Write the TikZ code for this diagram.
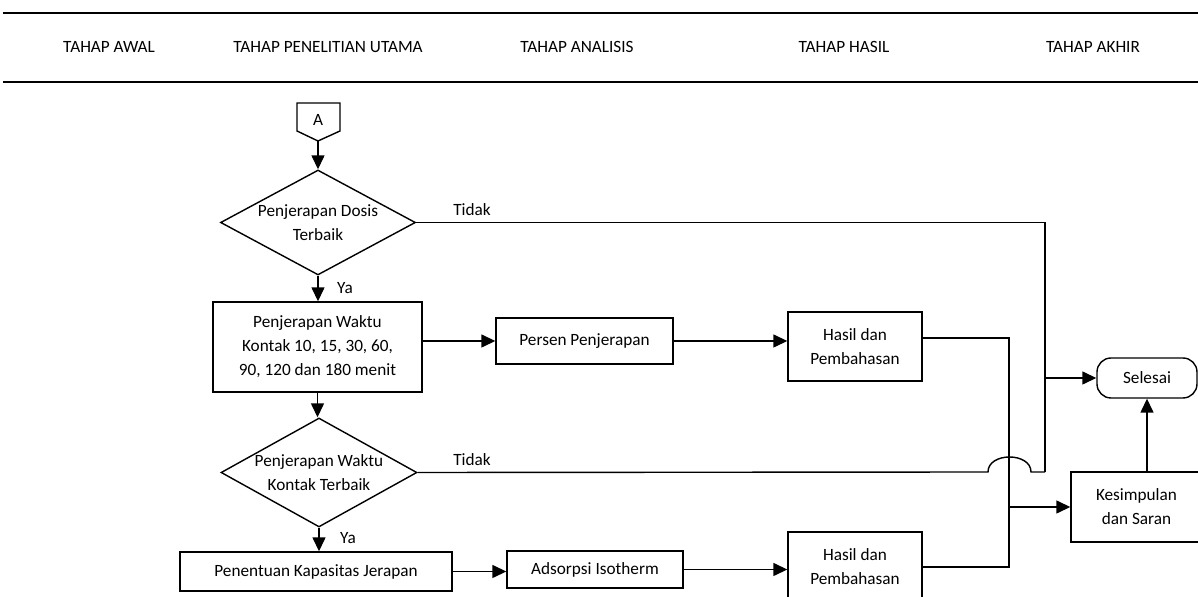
\documentclass[tikz,border=0pt]{standalone}
\usepackage{fontspec}
\setmainfont{Carlito}
\usetikzlibrary{arrows.meta, calc, positioning, shapes.geometric}

\begin{document}
\begin{tikzpicture}[x=0.02cm, y=-0.02cm, % one unit = one pixel, y pointing down
          > = {Triangle[length=2.8mm, width=2.6mm]}, % defined in "arrows.meta"
 line/.style = {line width=0.8pt},
  hdr/.style = {font=\fontsize{9.8}{12}\selectfont, inner sep=0pt},
  lbl/.style = {font=\fontsize{9.8}{12}\selectfont, inner sep=1pt},
 proc/.style = {draw, line width=0.8pt, align=center, inner sep=0pt,
                font=\fontsize{9.8}{13.6}\selectfont},
decide/.style = {diamond, draw, line width=0.8pt, align=center, aspect=1.85,
                inner sep=-4pt, font=\fontsize{9.8}{13.6}\selectfont},
 term/.style = {proc, rounded corners=2.8mm}
                    ]
\useasboundingbox (0,0) rectangle (1198,597);

	% header band
	\draw[line width=1.5pt] (3,13) -- (1198,13) (3,82) -- (1198,82);
	\foreach \x/\t [count=\i] in {109/TAHAP AWAL, 328/TAHAP PENELITIAN UTAMA,
	        577/TAHAP ANALISIS, 844/TAHAP HASIL, 1093/TAHAP AKHIR}
	    \node[hdr] (stage\i) at (\x,47) {\t};

	% off-page connector
	\draw[line] (297,103) -- (340,103) -- (340,131) -- (318,141) -- (297,131) -- cycle;
	\node[lbl] (conA) at (318,120) {A};
	\coordinate (Atip) at (318,141);

	% main column
	\node[decide, minimum width=3.9cm, minimum height=2.1cm] (d1) at (318,222.5)
	     {Penjerapan Dosis\\Terbaik};
	\node[proc, minimum width=4.18cm, minimum height=1.8cm] (b1) at (317.5,347)
	     {Penjerapan Waktu\\Kontak 10, 15, 30, 60,\\90, 120 dan 180 menit};
	\node[decide, minimum width=3.92cm, minimum height=2.18cm] (d2) at (319,472.5)
	     {Penjerapan Waktu\\Kontak Terbaik};
	\node[proc, minimum width=5.44cm, minimum height=0.78cm] (b3) at (316,571.5)
	     {Penentuan Kapasitas Jerapan};

	% analysis and results
	\node[proc, minimum width=3.54cm, minimum height=0.92cm] (pp) at (584.5,341)
	     {Persen Penjerapan};
	\node[proc, minimum width=2.68cm, minimum height=1.38cm] (h1) at (855,346.5)
	     {Hasil dan\\Pembahasan};
	\node[proc, minimum width=3.52cm, minimum height=0.74cm] (ai) at (595,569.5)
	     {Adsorpsi Isotherm};
	\node[proc, minimum width=2.68cm, minimum height=1.4cm] (h2) at (855,567)
	     {Hasil dan\\Pembahasan};

	% end
	\node[term, minimum width=2cm, minimum height=0.8cm] (sel) at (1147,378) {Selesai};
	\node[proc, minimum width=2.62cm, minimum height=1.4cm] (ks) at (1136.5,507)
	     {Kesimpulan\\dan Saran};

	\coordinate (mrg1) at (1045,378);
	\coordinate (mrg2) at (1009,507);
	\coordinate (jmpL) at (988,472);
	\coordinate (jmpR) at (1031,472);
	\coordinate (h1out) at ([yshift=0.17cm]h1.east);

	% arrows down the column
	\draw[line,->] (Atip) -- (d1.north);
	\draw[line,->] (d1.south) -- (d1.south |- b1.north);
	\draw[line,->] (b1.south) -- (b1.south |- d2.north);
	\draw[line,->] (d2.south) -- (d2.south |- b3.north);
	\node[lbl] (ya1) at (345,288) {Ya};
	\node[lbl] (ya2) at (348,538) {Ya};

	% the two "Tidak" branches
	\draw[line] (d1.east) -- (d1.east -| mrg1) -- (jmpR -| mrg1);
	\draw[line] (d2.east) -- (jmpL) .. controls +(0,-20) and +(0,-20) .. (jmpR)
	            -- (jmpR -| mrg1);
	\draw[line,->] (mrg1) -- (sel.west);
	\node[lbl] (tidak1) at (472,210) {Tidak};
	\node[lbl] (tidak2) at (472,460) {Tidak};

	% rows
	\draw[line,->] (b1.east |- pp.west) -- (pp.west);
	\draw[line,->] (pp.east) -- (pp.east -| h1.west);
	\draw[line,->] (b3.east) -- (b3.east -| ai.west);
	\draw[line,->] (ai.east) -- (ai.east -| h2.west);

	% results into conclusion
	\draw[line] (h1out) -- (h1out -| mrg2) -- (mrg2 |- h2.east) -- (h2.east);
	\draw[line,->] (mrg2) -- (ks.west);
	\draw[line,->] (ks.north -| sel.south) -- (sel.south);
\end{tikzpicture}
\end{document}
